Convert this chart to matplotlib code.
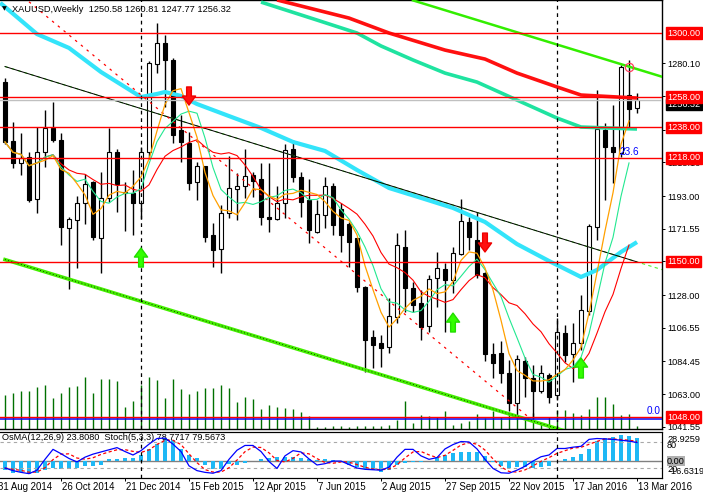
import matplotlib
matplotlib.use('Agg')
import matplotlib.pyplot as plt
import numpy as np
import pandas as pd
from matplotlib.transforms import blended_transform_factory

plt.rcParams['font.family'] = ['Liberation Sans', 'DejaVu Sans']

# ---------------- data (weekly XAUUSD, bar 0 = week of 7 Sep 2014) ----------------
opens = [1267.8, 1229.1, 1214.9, 1218.8, 1190.9, 1222.1, 1237.5, 1229.8, 1171.8, 1177.3,
         1188.2, 1202.4, 1165.3, 1191.5, 1221.7, 1195.6, 1195.0, 1188.2, 1222.1, 1279.7,
         1293.2, 1282.3, 1236.3, 1228.0, 1202.2, 1212.7, 1167.4, 1158.1, 1182.1, 1197.4,
         1199.6, 1206.8, 1204.0, 1179.4, 1177.7, 1188.2, 1223.7, 1205.3, 1190.4, 1169.7,
         1180.6, 1199.6, 1184.3, 1174.6, 1165.3, 1133.5, 1100.3, 1096.8, 1094.1, 1113.8,
         1159.8, 1132.4, 1122.6, 1107.7, 1139.0, 1145.1, 1137.9, 1155.0, 1176.2, 1164.1,
         1142.3, 1089.3, 1090.2, 1076.7, 1057.0, 1084.7, 1073.4, 1065.2, 1075.6, 1062.4,
         1103.3, 1089.3, 1096.8, 1117.7, 1172.9, 1236.3, 1225.4, 1221.4, 1259.3, 1250.58]
highs = [1270.5, 1241.8, 1234.2, 1222.1, 1238.1, 1249.5, 1254.9, 1234.2, 1179.5, 1193.0,
         1207.5, 1203.0, 1209.0, 1237.5, 1223.9, 1202.0, 1210.1, 1225.4, 1281.8, 1306.8,
         1298.7, 1283.5, 1246.2, 1235.2, 1215.5, 1213.0, 1175.1, 1187.1, 1219.3, 1207.9,
         1223.7, 1209.0, 1214.5, 1214.9, 1199.6, 1227.2, 1229.8, 1209.0, 1204.0, 1190.4,
         1205.7, 1201.4, 1188.2, 1176.2, 1165.5, 1134.0, 1105.1, 1101.8, 1125.9, 1168.6,
         1170.7, 1136.8, 1131.3, 1141.2, 1156.5, 1148.9, 1159.8, 1190.9, 1179.4, 1182.7,
         1143.4, 1096.4, 1098.1, 1085.4, 1088.7, 1087.6, 1082.1, 1082.1, 1077.1, 1112.8,
         1108.4, 1109.5, 1128.0, 1174.6, 1262.6, 1240.7, 1252.7, 1279.0, 1282.3, 1260.81]
lows = [1227.2, 1211.2, 1206.8, 1189.3, 1182.1, 1212.3, 1228.7, 1160.9, 1131.8, 1145.6,
        1174.6, 1164.0, 1142.3, 1189.3, 1182.8, 1170.3, 1167.4, 1177.7, 1217.1, 1273.6,
        1251.2, 1227.6, 1215.5, 1197.0, 1190.4, 1163.0, 1146.6, 1142.3, 1178.4, 1177.3,
        1191.5, 1192.6, 1174.0, 1169.7, 1177.3, 1178.4, 1202.4, 1179.4, 1162.0, 1168.6,
        1171.8, 1167.4, 1156.5, 1146.6, 1130.2, 1077.7, 1080.0, 1081.0, 1089.8, 1109.5,
        1117.1, 1117.1, 1098.5, 1104.0, 1120.4, 1104.0, 1129.6, 1154.3, 1157.6, 1139.0,
        1085.0, 1073.4, 1070.1, 1052.1, 1047.1, 1061.3, 1047.1, 1063.5, 1057.0, 1059.1,
        1084.3, 1071.2, 1092.0, 1114.9, 1164.1, 1190.4, 1201.4, 1218.8, 1237.5, 1247.77]
closes = [1228.5, 1214.9, 1217.8, 1190.4, 1222.1, 1237.5, 1229.8, 1172.5, 1177.7, 1188.2,
          1200.7, 1165.9, 1191.5, 1221.7, 1200.7, 1195.0, 1188.2, 1222.1, 1280.1, 1293.2,
          1282.3, 1233.1, 1228.7, 1201.4, 1212.7, 1166.3, 1157.6, 1181.7, 1198.1, 1199.6,
          1206.1, 1203.1, 1179.0, 1177.7, 1188.2, 1223.2, 1205.7, 1189.3, 1170.7, 1181.2,
          1199.6, 1174.0, 1167.4, 1163.0, 1133.5, 1098.5, 1095.2, 1093.5, 1114.3, 1160.9,
          1132.4, 1121.5, 1107.2, 1138.4, 1145.6, 1137.9, 1155.4, 1176.6, 1166.3, 1141.2,
          1089.3, 1083.6, 1077.1, 1057.0, 1085.8, 1073.4, 1065.2, 1076.7, 1060.9, 1104.0,
          1088.7, 1096.8, 1118.2, 1173.3, 1236.8, 1225.4, 1222.1, 1277.5, 1249.9, 1256.32]
volumes = [34, 36, 38, 38, 42, 44, 31, 36, 42, 43, 52, 36, 50, 50, 48, 22, 28, 44, 52, 49,
           31, 50, 40, 35, 38, 41, 41, 44, 41, 27, 32, 30, 20, 24, 22, 21, 20, 17, 13, 2,
           2, 3, 3, 2, 3, 3, 3, 3, 4, 9, 28, 6, 14, 13, 12, 18, 4, 6, 8, 15,
           11, 18, 12, 15, 12, 11, 16, 7, 12, 19, 19, 16, 14, 20, 32, 32, 25, 14, 15, 3]
osma = [-9.3, -12.8, -11.0, -13.5, -12.8, -9.3, -6.9, -8.6, -8.3, -7.6,
        -5.2, -5.2, -4.1, 1.7, 2.4, 3.4, 3.1, 6.2, 12.1, 17.6,
        23.5, 21.7, 12.1, 6.2, 3.1, -4.1, -8.3, -8.3, -3.4, -4.1,
        -2.4, -0.3, 1.7, 2.8, 3.8, 4.5, 3.8, 3.1, 1.7, 1.0,
        1.7, 1.0, -1.0, -4.1, -5.9, -8.3, -9.3, -11.7, -9.3, -4.1,
        -1.7, -1.4, -0.7, 0.3, 4.5, 6.2, 7.9, 9.7, 9.7, 9.0,
        5.2, -0.7, -5.2, -7.6, -6.6, -5.9, -7.6, -6.6, -5.2, 0.3,
        2.1, 3.8, 7.5, 12.8, 21.0, 24.0, 25.2, 27.3, 26.0, 23.808]
stoch_main = [20, 14, 10, 7, 15, 40, 63, 53, 42, 34, 45, 52, 57, 62, 67, 58, 50, 60, 75, 88,
              89, 75, 58, 25, 14, 10, 8, 14, 40, 61, 72, 72, 58, 35, 19, 48, 60, 57, 41, 27,
              30, 36, 36, 28, 20, 17, 16, 15, 22, 45, 63, 63, 48, 40, 44, 64, 74, 81, 80, 64,
              40, 19, 9, 8, 15, 24, 36, 46, 50, 65, 65, 68, 70, 86, 88, 87, 86, 84, 82, 78.77]

# long moving averages (bar index, price)
cyan_bars = [-0.6, 4, 8, 12, 16, 17, 19, 20, 22, 24, 28, 32, 36, 40, 44, 48, 52, 56, 60, 64, 68, 72, 74, 77, 79]
cyan_vals = [1319.8, 1299.3, 1290.2, 1274.4, 1261.3, 1258.0, 1260.0, 1261.3, 1258.7, 1253.4, 1245.5, 1237.7,
             1228.5, 1222.6, 1210.1, 1198.3, 1191.8, 1185.2, 1176.0, 1161.5, 1150.4, 1139.9, 1144.5, 1156.3, 1162.8]
teal_bars = [32, 39, 44, 47, 51, 55, 59, 64, 69, 72, 79]
teal_vals = [1320.3, 1308.5, 1300.0, 1291.5, 1282.3, 1273.7, 1267.8, 1256.0, 1244.2, 1238.3, 1237.0]
redma_bars = [34, 43, 48, 55, 60, 64, 69, 72, 79]
redma_vals = [1321.7, 1309.8, 1300.0, 1288.8, 1282.9, 1273.7, 1264.6, 1259.3, 1257.3]

# trend lines (two anchors each: bars, prices)
top_channel = ([51, 83], [1321.4, 1269.9])
mid_channel = ([0, 79], [1278.0, 1149.8])
mid_channel_ext = ([0, 83], [1278.0, 1143.3])
low_channel = ([0, 70], [1151.3, 1038.8])
red_trend = ([3, 65.5], [1320.5, 1047.7])

levels = [1300.00, 1258.00, 1238.00, 1218.00, 1150.00, 1048.00]
fib_zero = 1046.6
bid = 1256.32
price_ticks = [1280.10, 1258.65, 1236.55, 1215.10, 1193.00, 1171.55, 1150.10,
               1128.00, 1106.55, 1084.45, 1063.00, 1041.55]
date_tick_bars = [-1, 7, 15, 23, 31, 39, 47, 55, 63, 71, 79]
date_labels = ['31 Aug 2014', '26 Oct 2014', '21 Dec 2014', '15 Feb 2015', '12 Apr 2015',
               '7 Jun 2015', '2 Aug 2015', '27 Sep 2015', '22 Nov 2015', '17 Jan 2016', '13 Mar 2016']
year_sep_bars = [17, 69]

up_arrow_bars = [17, 56, 72]
up_arrow_tail = [1146.4, 1103.8, 1073.6]
up_arrow_head = [1158.9, 1116.2, 1086.7]
dn_arrow_bars = [23, 60]
dn_arrow_tail = [1264.6, 1168.7]
dn_arrow_head = [1252.7, 1156.3]
circle_bar, circle_price = 78, 1277.7

# ---------------- figure ----------------
W, H = 703, 498
fig = plt.figure(figsize=(W / 100, H / 100), dpi=100)
fig.patch.set_facecolor('white')

def fx(px):
    return px / W

def fy(py):
    return 1 - py / H

XMIN, XMAX = -0.625, 82.125
YMIN, YMAX = 1040.14, 1321.66
FS = 6.6

ax_vol = fig.add_axes([0, fy(429), fx(662), 429 / H])
ax = fig.add_axes([0, fy(429), fx(662), 429 / H])
ax_vol.set_zorder(0)
ax.set_zorder(1)
ax.patch.set_visible(False)

x = np.arange(len(closes))

# volumes
ax_vol.vlines(x, 0, np.array(volumes) * 1000, color='#007000', lw=1.0)
ax_vol.set_xlim(XMIN, XMAX)
ax_vol.set_ylim(0, 429000)
ax_vol.axis('off')

ax.set_xlim(XMIN, XMAX)
ax.set_ylim(YMIN, YMAX)

# candles
o = np.array(opens); c = np.array(closes); h = np.array(highs); l = np.array(lows)
ax.vlines(x, l, h, color='black', lw=1.0, zorder=3)
bot = np.minimum(o, c)
hgt = np.maximum(np.abs(c - o), 0.4)
fcol = ['white' if cc >= oo else 'black' for oo, cc in zip(o, c)]
ax.bar(x, hgt, bottom=bot, width=0.62, color=fcol, edgecolor='black', linewidth=0.8, zorder=4)

# long MAs
ax.plot(cyan_bars, cyan_vals, color='#33E4FA', lw=3.0, zorder=5, solid_capstyle='butt')
ax.plot(teal_bars, teal_vals, color='#1FE3A0', lw=2.6, zorder=5, solid_capstyle='butt')
ax.plot(redma_bars, redma_vals, color='#FF1010', lw=2.6, zorder=5, solid_capstyle='butt')

# short MAs (computed from closes)
cs = pd.Series(closes[:-1])
ma_fast = cs.rolling(5, min_periods=1).mean()
ma_mid = cs.rolling(7, min_periods=1).mean()
ma_slow = cs.rolling(12, min_periods=1).mean()
xs = x[:-1]
ax.plot(xs, ma_slow, color='#FF0000', lw=0.8, zorder=6)
ax.plot(xs, ma_mid, color='#22E890', lw=0.8, zorder=6)
ax.plot(xs, ma_fast, color='#FFA000', lw=0.9, zorder=6)

# trend lines
ax.plot(*low_channel, color='#44EE00', lw=2.6, zorder=5)
ax.plot(*low_channel, color='black', lw=0.6, ls=(0, (1, 3)), zorder=5)
ax.plot(*mid_channel_ext, color='#55EE33', lw=0.8, ls=(0, (3, 3)), zorder=5)
ax.plot(*mid_channel, color='black', lw=0.7, zorder=5)
ax.plot(*top_channel, color='#33EE00', lw=1.8, zorder=5)
ax.plot(*red_trend, color='#FF0000', lw=0.9, ls=(0, (2, 4)), zorder=5)

# horizontal levels
ax.axhline(fib_zero, color='#0000FF', lw=1.1, zorder=6.8)
for lv in levels:
    ax.axhline(lv, color='#FF0000', lw=1.0, zorder=7)
ax.axhline(bid, color='#C0C0C0', lw=1.0, zorder=6.5)

# year separators
for b in year_sep_bars:
    ax.axvline(b, color='black', lw=0.9, ls=(0, (3, 3)), zorder=6)

# arrows
for b, t, hd in zip(up_arrow_bars, up_arrow_tail, up_arrow_head):
    ax.annotate('', xy=(b, hd), xytext=(b, t),
                arrowprops=dict(facecolor='#33FF00', edgecolor='#22DD00', width=3.4,
                                headwidth=9.5, headlength=6.5, shrink=0), zorder=8)
for b, t, hd in zip(dn_arrow_bars, dn_arrow_tail, dn_arrow_head):
    ax.annotate('', xy=(b, hd), xytext=(b, t),
                arrowprops=dict(facecolor='#FF1010', edgecolor='#EE0000', width=3.4,
                                headwidth=9.5, headlength=6.5, shrink=0), zorder=8)
ax.plot([circle_bar], [circle_price], marker='o', ms=6, mfc='none', mec='#FF4060', mew=0.9, zorder=8)

# fib labels
ax.text(79.2, 1221.9, '23.6', color='#0000FF', fontsize=FS + 0.6, ha='right', va='center', zorder=8)
ax.text(81.9, 1052.2, '0.0', color='#0000FF', fontsize=FS + 0.6, ha='right', va='center', zorder=8)

# axes styling
ax.spines['left'].set_visible(False)
for s in ['top', 'right', 'bottom']:
    ax.spines[s].set_linewidth(1.0)
ax.set_xticks([])
ax.yaxis.tick_right()
ax.set_yticks(price_ticks)
ax.set_yticklabels([f'{v:.2f}' for v in price_ticks])
ax.tick_params(axis='y', length=2.2, width=0.7, pad=1.5, labelsize=FS)

bt = blended_transform_factory(ax.transAxes, ax.transData)
ax.text(1.008, bid - 3.2, f'{bid:.2f}', transform=bt, color='white', fontsize=FS, va='center', ha='left',
        bbox=dict(boxstyle='square,pad=0.12', facecolor='black', edgecolor='black'), zorder=9, clip_on=False)
for lv in levels:
    ax.text(1.008, lv, f'{lv:.2f}', transform=bt, color='white', fontsize=FS, va='center', ha='left',
            bbox=dict(boxstyle='square,pad=0.12', facecolor='#FF0000', edgecolor='#FF0000'), zorder=10,
            clip_on=False)

# title
fig.text(fx(2), fy(9), '\u25BC', fontsize=4.5, family='DejaVu Sans', va='center', ha='left')
fig.text(fx(12), fy(9), 'XAUUSD,Weekly  1250.58 1260.81 1247.77 1256.32', fontsize=FS + 0.1,
         va='center', ha='left')

# ---------------- indicator panel ----------------
ax_ind = fig.add_axes([0, fy(478), fx(662), 46 / H])
ax_ind.set_xlim(XMIN, XMAX)
ax_ind.set_ylim(-17.6, 29.9)
ax_ind.bar(x, osma, width=0.42, color='#1EB8F5', zorder=2)
ax_ind.axhline(0, color='#808080', lw=1.0, zorder=1)
ax_st = ax_ind.twinx()
ax_st.set_xlim(XMIN, XMAX)
ax_st.set_ylim(-3, 103)
ax_st.axhline(80, color='#A8A8A8', lw=0.8, ls=(0, (3, 3)))
ax_st.axhline(20, color='#A8A8A8', lw=0.8, ls=(0, (3, 3)))
sig = pd.Series(stoch_main).rolling(3, min_periods=1).mean()
ax_st.plot(x, sig, color='#FF0000', lw=0.9, ls=(0, (2.5, 2)), zorder=3)
ax_st.plot(x, stoch_main, color='#0000FF', lw=0.9, zorder=4)
for b in year_sep_bars:
    ax_st.axvline(b, color='black', lw=0.9, ls=(0, (3, 3)), zorder=5)
for a in (ax_ind, ax_st):
    a.spines['left'].set_visible(False)
    a.set_yticks([])
ax_st.set_xticks([])
ax_ind.set_xticks([b for b in date_tick_bars if b > XMIN])
ax_ind.set_xticklabels([])
ax_ind.tick_params(axis='x', length=2.2, width=0.7)

ax_ind.text(0.003, 0.87, 'OsMA(12,26,9) 23.8080  Stoch(5,3,3) 78.7717 79.5673',
            transform=ax_ind.transAxes, fontsize=FS, va='center', ha='left', zorder=6)

fig.text(fx(667), fy(439), '28.9259', fontsize=FS, va='center', ha='left')
fig.text(fx(667), fy(445), '80', fontsize=FS, va='center', ha='left')
fig.text(fx(667), fy(461), '0.00', fontsize=FS, va='center', ha='left',
         bbox=dict(boxstyle='square,pad=0.05', facecolor='#B0B0B0', edgecolor='none'))
fig.text(fx(667), fy(469), '20', fontsize=FS, va='center', ha='left')
fig.text(fx(669), fy(471), '-16.6319', fontsize=FS, va='center', ha='left')

dt = blended_transform_factory(ax_ind.transData, fig.transFigure)
for b, lab in zip(date_tick_bars, date_labels):
    ax_ind.text(b + 0.1, fy(487), lab, transform=dt, fontsize=FS + 0.3, va='center', ha='left', clip_on=False)

fig.savefig('out.png', dpi=100, facecolor='white')
